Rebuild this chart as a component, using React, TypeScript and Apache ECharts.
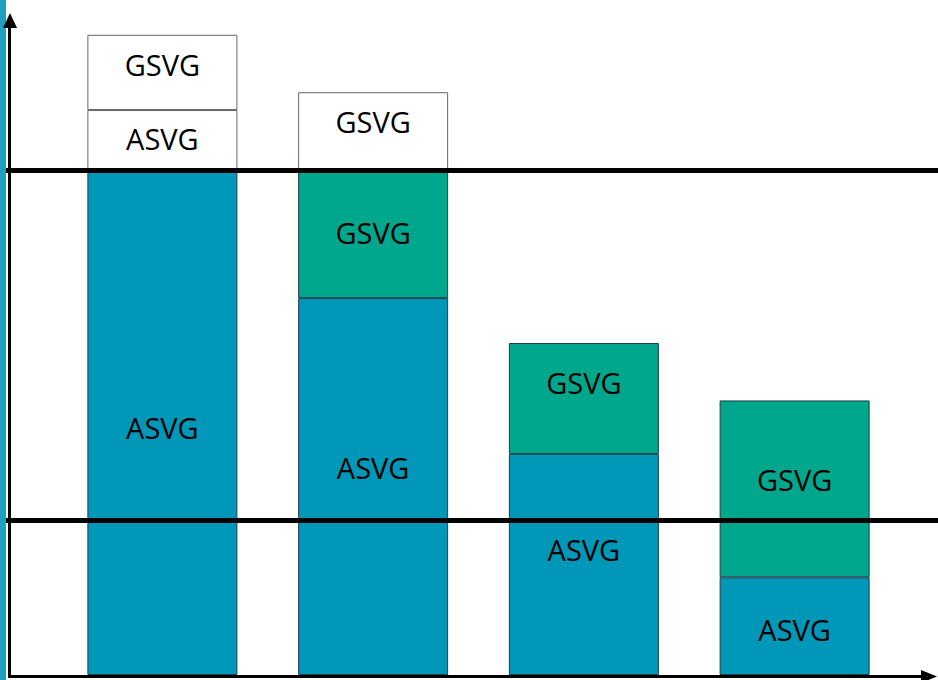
import React, { useEffect, useRef } from "react";
import * as echarts from "echarts";

const categories = ["1", "2", "3", "4"];
const asvgBase = [76.5, 57.1, 33.5, 14.8];
const gsvgBase: (number | null)[] = [null, 19.4, 16.8, 26.8];
const asvgExtra: (number | null)[] = [9.1, null, null, null];
const gsvgExtra: (number | null)[] = [11.4, 11.8, null, null];
const thresholds = [76.5, 23.5];

// label vertical shifts (px) for each segment
const shiftAsvgBase = [5, -19, -15, 3];
const shiftGsvgBase = [0, -2, -16, -9];
const shiftAsvgExtra = [-2, 0, 0, 0];
const shiftGsvgExtra = [-8, -10, 0, 0];

const BLUE = "#0097b8";
const GREEN = "#00a78c";
const FONT = "'Open Sans', 'Noto Sans', sans-serif";

function mk(name: string, values: (number | null)[], shifts: number[], color: string, border: string) {
  return {
    type: "bar",
    name,
    stack: "s",
    barWidth: 150,
    data: values.map((v, i) => ({
      value: v == null ? "-" : v,
      label: { offset: [0, shifts[i]] },
    })),
    itemStyle: { color, borderColor: border, borderWidth: 1 },
    label: {
      show: true,
      position: "inside",
      formatter: name,
      color: "#000",
      fontSize: 29,
      fontFamily: FONT,
    },
  };
}

export default function App() {
  const ref = useRef<HTMLDivElement>(null);
  useEffect(() => {
    const chart = echarts.init(ref.current!, undefined, { renderer: "svg" });
    const series: any[] = [
      mk("ASVG", asvgBase, shiftAsvgBase, BLUE, "#1d3f48"),
      mk("GSVG", gsvgBase, shiftGsvgBase, GREEN, "#1d3f48"),
      mk("ASVG", asvgExtra, shiftAsvgExtra, "#ffffff", "#666"),
      mk("GSVG", gsvgExtra, shiftGsvgExtra, "#ffffff", "#666"),
    ];
    series[3].markLine = {
      silent: true,
      symbol: "none",
      label: { show: false },
      lineStyle: { color: "#000", width: 5, type: "solid" },
      z: 10,
      data: thresholds.map((t) => [
        { xAxis: categories[0], yAxis: t, x: 6 },
        { xAxis: categories[categories.length - 1], yAxis: t, x: 938 },
      ]),
    };
    chart.setOption({
      animation: false,
      backgroundColor: "#ffffff",
      grid: { left: 57, right: 38, top: 15, bottom: 5 },
      xAxis: { type: "category", data: categories, show: false },
      yAxis: { type: "value", min: 0, max: 100, show: false },
      series,
      graphic: [
        { type: "rect", shape: { x: 0, y: 0, width: 6, height: 680 }, style: { fill: "#1f9fc0" }, z: 20 },
        { type: "line", shape: { x1: 9.5, y1: 677, x2: 9.5, y2: 26 }, style: { stroke: "#000", lineWidth: 3 }, z: 20 },
        { type: "polygon", shape: { points: [[10, 13], [3, 28], [17, 28]] }, style: { fill: "#000" }, z: 20 },
        { type: "line", shape: { x1: 8, y1: 676.5, x2: 924, y2: 676.5 }, style: { stroke: "#000", lineWidth: 3 }, z: 20 },
        { type: "polygon", shape: { points: [[937, 676.5], [921, 670], [921, 683]] }, style: { fill: "#000" }, z: 20 },
      ],
    });
    return () => chart.dispose();
  }, []);
  return <div ref={ref} style={{ width: 938, height: 680, position: "absolute", left: 0, top: 0 }} />;
}
